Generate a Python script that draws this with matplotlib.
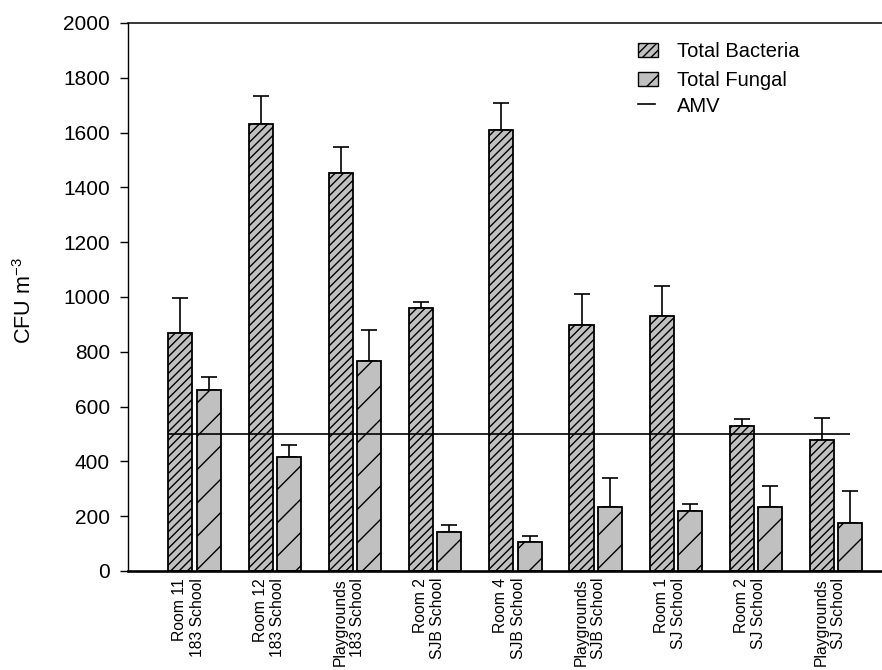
import numpy as np
import matplotlib
matplotlib.use("Agg")
import matplotlib.pyplot as plt
import matplotlib.transforms as mtransforms
from matplotlib.patches import Patch
from matplotlib.lines import Line2D

plt.rcParams['font.family'] = ['Liberation Sans', 'DejaVu Sans']
plt.rcParams['mathtext.fontset'] = 'custom'
plt.rcParams['mathtext.rm'] = 'Liberation Sans'
plt.rcParams['mathtext.default'] = 'regular'
plt.rcParams['hatch.linewidth'] = 1.0

# data
sites = ["Room 11\n183 School", "Room 12\n183 School", "Playgrounds\n183 School",
         "Room 2\nSJB School", "Room 4\nSJB School", "Playgrounds\nSJB School",
         "Room 1\nSJ School", "Room 2\nSJ School", "Playgrounds\nSJ School"]
bacteria = [870, 1633, 1451, 959, 1609, 897, 932, 530, 478]
bacteria_sd = [125, 100, 98, 22, 98, 115, 108, 23, 82]
fungal = [660, 417, 766, 143, 105, 235, 218, 235, 176]
fungal_sd = [48, 43, 113, 24, 23, 103, 25, 76, 116]
amv = 500

fig = plt.figure(figsize=(8.82, 6.70), dpi=100)
ax = fig.add_axes([128 / 882, 99 / 670, 754 / 882, 548 / 670])

x = np.arange(len(sites))
w = 0.30
off = 0.176
grey = '#c0c0c0'

ax.bar(x - off, bacteria, w, color=grey, edgecolor='black', linewidth=1.3,
       hatch='////', zorder=2)
ax.bar(x + off, fungal, w, color=grey, edgecolor='black', linewidth=1.3,
       hatch='/', zorder=2)
ax.errorbar(x - off, bacteria, yerr=[np.zeros(len(x)), bacteria_sd], fmt='none',
            ecolor='black', elinewidth=1.2, capsize=5.6, capthick=1.2, zorder=1)
ax.errorbar(x + off, fungal, yerr=[np.zeros(len(x)), fungal_sd], fmt='none',
            ecolor='black', elinewidth=1.2, capsize=5.6, capthick=1.2, zorder=1)
ax.hlines(amv, x[0] - 0.33, x[-1] + 0.17, color='black', linewidth=1.2, zorder=3)

ax.set_xlim(-0.83, 8.57)
ax.set_ylim(0, 2000)
ax.set_yticks(np.arange(0, 2001, 200))
ax.tick_params(axis='y', labelsize=15, length=6, width=1.0, direction='out', pad=7)
ax.set_xticks(x)
ax.set_xticklabels(sites, rotation=90, fontsize=11.3, ma='right', linespacing=1.2)
ax.tick_params(axis='x', length=0, pad=5)
shift = mtransforms.ScaledTranslation(-6 / 100, 0, fig.dpi_scale_trans)
for lab in ax.get_xticklabels():
    lab.set_transform(lab.get_transform() + shift)

ax.spines['right'].set_visible(False)
ax.spines['bottom'].set_linewidth(1.9)
ax.spines['left'].set_linewidth(1.0)
ax.spines['top'].set_linewidth(1.1)

ax.set_ylabel('CFU m$^{-3}$', fontsize=15.5)
ax.yaxis.set_label_coords(-0.122, 0.494)

h1 = [Patch(facecolor=grey, edgecolor='black', hatch='////', linewidth=1.0),
      Patch(facecolor=grey, edgecolor='black', hatch='/', linewidth=1.0)]
fig.legend(h1, ['Total Bacteria', 'Total Fungal'], loc='upper left',
           bbox_to_anchor=(638 / 882, 1 - 42 / 670), frameon=False,
           fontsize=14.5, borderpad=0, borderaxespad=0, handlelength=1.0,
           handleheight=0.65, handletextpad=0.95, labelspacing=0.5)
h2 = [Line2D([0], [0], color='black', linewidth=1.2)]
fig.legend(h2, ['AMV'], loc='center left', bbox_to_anchor=(638 / 882, 1 - 106 / 670),
           frameon=False, fontsize=14.5, borderpad=0, borderaxespad=0,
           handlelength=0.85, handletextpad=1.1)

fig.savefig('out.png', dpi=100)
